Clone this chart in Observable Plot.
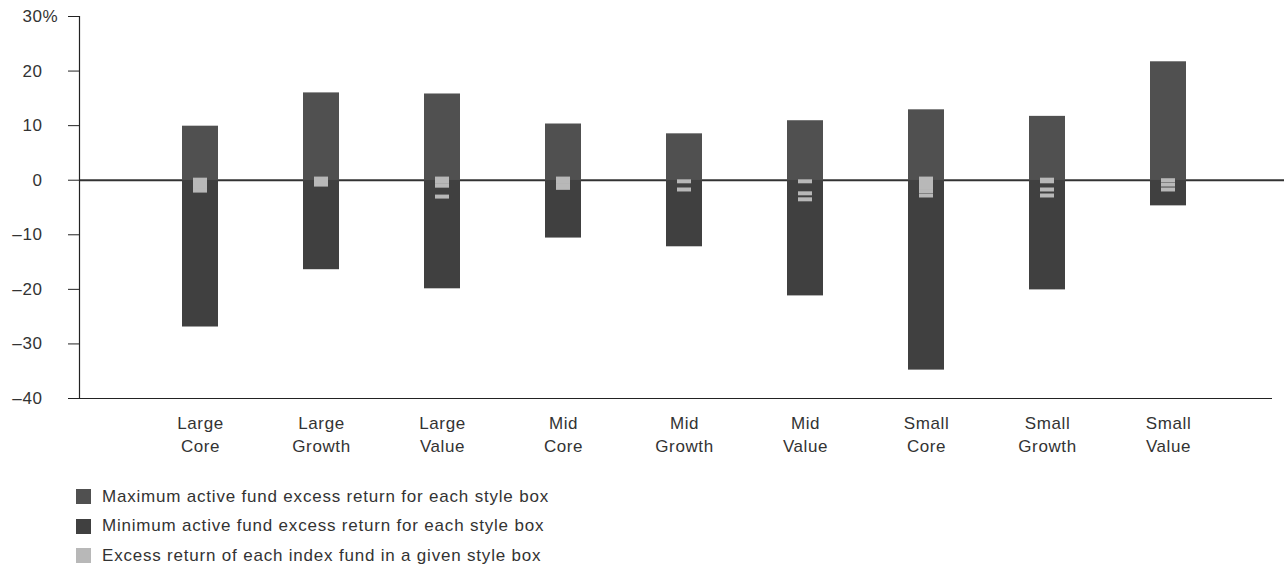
<!DOCTYPE html>
<html>
<head>
<meta charset="utf-8">
<script src="https://cdn.jsdelivr.net/npm/d3@7"></script>
<script src="https://cdn.jsdelivr.net/npm/@observablehq/plot@0.6"></script>
<style>
  html, body { margin: 0; padding: 0; background: #fff; }
  body { font-family: "Liberation Sans", Arial, sans-serif; color: #333; width: 1284px; }
  #legend { padding: 17px 0 0 76px; }
  .row { height: 29.5px; display: flex; align-items: center; font-size: 17px; letter-spacing: 0.8px; }
  .sw { width: 15px; height: 15px; margin-right: 11px; flex: none; }
</style>
</head>
<body>
<div id="chart"></div>
<div id="legend"></div>
<script>
const styles = ["Large Core","Large Growth","Large Value","Mid Core","Mid Growth","Mid Value","Small Core","Small Growth","Small Value"];
const maxReturn = [9.9, 16.0, 15.8, 10.3, 8.5, 10.9, 12.9, 11.7, 21.7];
const minReturn = [-26.9, -16.4, -19.9, -10.6, -12.2, -21.2, -34.8, -20.1, -4.7];
// index fund excess returns (each fund is one dash)
const indexStyle = [
  "Large Core","Large Core","Large Core","Large Core","Large Core",
  "Large Growth","Large Growth","Large Growth",
  "Large Value","Large Value","Large Value","Large Value",
  "Mid Core","Mid Core","Mid Core","Mid Core",
  "Mid Growth","Mid Growth",
  "Mid Value","Mid Value","Mid Value",
  "Small Core","Small Core","Small Core","Small Core","Small Core","Small Core",
  "Small Growth","Small Growth","Small Growth","Small Growth",
  "Small Value","Small Value","Small Value"
];
const indexReturn = [
  0.1, -0.4, -0.9, -1.4, -1.9,
  0.3, -0.3, -0.8,
  0.3, -0.3, -1.0, -3.0,
  0.3, -0.3, -0.9, -1.4,
  -0.2, -1.7,
  -0.2, -2.4, -3.5,
  0.3, -0.3, -0.8, -1.4, -2.0, -2.8,
  0.1, -0.2, -1.7, -2.8,
  0.0, -0.8, -1.7
];
const yTicks = [-40, -30, -20, -10, 0, 10, 20, 30];
const legendLabels = [
  "Maximum active fund excess return for each style box",
  "Minimum active fund excess return for each style box",
  "Excess return of each index fund in a given style box"
];
const colors = ["#505050", "#404040", "#b8b8b8"];

const bars = styles.map((s, i) => ({style: s, max: maxReturn[i], min: minReturn[i]}));
const funds = indexStyle.map((s, i) => ({style: s, value: indexReturn[i]}));

const chart = Plot.plot({
  width: 1284,
  height: 465,
  marginLeft: 79,
  marginRight: 0,
  marginTop: 16,
  marginBottom: 67,
  style: {fontFamily: "Liberation Sans, Arial, sans-serif", fontSize: "17px", color: "#333", background: "#fff"},
  x: {domain: styles, range: [96, 1272], padding: 0.7, axis: null, label: null},
  y: {domain: [-40, 30], axis: null, label: null},
  marks: [
    Plot.ruleY([0], {stroke: "#333", strokeWidth: 2}),
    Plot.barY(bars, {x: "style", y1: 0, y2: "max", fill: colors[0]}),
    Plot.barY(bars, {x: "style", y1: "min", y2: 0, fill: colors[1]}),
    Plot.tickY(funds, {x: "style", y: "value", stroke: colors[2], strokeWidth: 4, insetLeft: 11, insetRight: 11}),
    Plot.ruleY([-40], {stroke: "#222", strokeWidth: 1.2, insetLeft: -11, insetRight: 12}),
    Plot.frame({anchor: "left", stroke: "#222", strokeWidth: 1.2}),
    Plot.axisY({
      ticks: yTicks, tickSize: 11, tickPadding: 26, stroke: "#222", label: null,
      fontSize: 17, fill: "#333",
      tickFormat: d => (d < 0 ? "\u2013" + Math.abs(d) : String(d))
    }),
    Plot.text([30], {y: d => d, text: () => "%", frameAnchor: "left", dx: -37, textAnchor: "start", fontSize: 17, fill: "#333"}),
    Plot.axisX({
      tickSize: 0, tickPadding: 14, lineHeight: 1.35, fontSize: 17, fill: "#333", label: null,
      tickFormat: d => d.replace(" ", "\n")
    })
  ]
});
chart.querySelectorAll("text").forEach(t => t.setAttribute("letter-spacing", "0.6"));
document.getElementById("chart").appendChild(chart);

const legend = document.getElementById("legend");
legendLabels.forEach((label, i) => {
  const row = document.createElement("div");
  row.className = "row";
  const sw = document.createElement("div");
  sw.className = "sw";
  sw.style.background = colors[i];
  const tx = document.createElement("span");
  tx.textContent = label;
  row.appendChild(sw);
  row.appendChild(tx);
  legend.appendChild(row);
});
</script>
</body>
</html>
